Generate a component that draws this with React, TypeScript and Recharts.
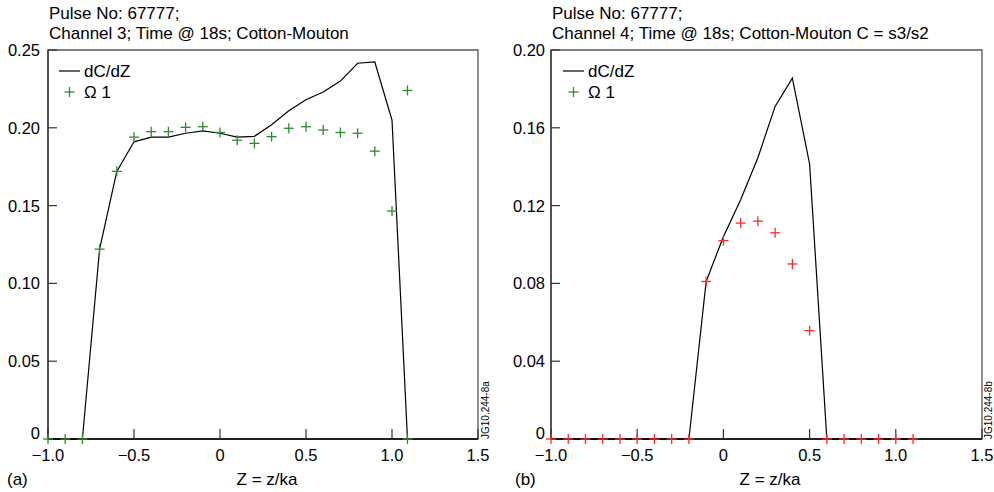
import React from 'react';
import { ComposedChart, Scatter, XAxis, YAxis, ReferenceArea, Legend } from 'recharts';

const FONT = '"Liberation Sans", Arial, Helvetica, sans-serif';
const GREEN = '#2f8a2f';
const RED = '#ff2a2a';

// ---------- Panel (a): Channel 3 ----------
const aLineZ = [-1.0, -0.9, -0.8, -0.7, -0.6, -0.5, -0.4, -0.3, -0.2, -0.1, 0, 0.1, 0.2, 0.3, 0.4, 0.5, 0.6, 0.7, 0.8, 0.9, 1.0, 1.09];
const aLineDCdZ = [0, 0, 0, 0.122, 0.172, 0.191, 0.194, 0.194, 0.1965, 0.198, 0.1965, 0.194, 0.1945, 0.202, 0.211, 0.218, 0.223, 0.23, 0.2415, 0.2423, 0.205, 0];
const aOmegaZ = [-1.0, -0.9, -0.8, -0.7, -0.6, -0.5, -0.4, -0.3, -0.2, -0.1, 0, 0.1, 0.2, 0.3, 0.4, 0.5, 0.6, 0.7, 0.8, 0.9, 1.0, 1.09, 1.09];
const aOmega1 = [0, 0, 0, 0.122, 0.172, 0.194, 0.1975, 0.1975, 0.2003, 0.2007, 0.197, 0.192, 0.19, 0.1943, 0.1997, 0.2007, 0.1986, 0.197, 0.1965, 0.185, 0.1465, 0.224, 0];
const aYTicks = [0, 0.05, 0.1, 0.15, 0.2, 0.25];

// ---------- Panel (b): Channel 4 ----------
const bLineZ = [-1.0, -0.9, -0.8, -0.7, -0.6, -0.5, -0.4, -0.3, -0.2, -0.1, 0, 0.1, 0.2, 0.3, 0.4, 0.5, 0.6, 0.7, 0.8, 0.9, 1.0, 1.1];
const bLineDCdZ = [0, 0, 0, 0, 0, 0, 0, 0, 0, 0.081, 0.104, 0.123, 0.1446, 0.171, 0.1855, 0.1414, 0, 0, 0, 0, 0, 0];
const bOmegaZ = [-1.0, -0.9, -0.8, -0.7, -0.6, -0.5, -0.4, -0.3, -0.2, -0.1, 0, 0.1, 0.2, 0.3, 0.4, 0.5, 0.6, 0.7, 0.8, 0.9, 1.0, 1.1];
const bOmega1 = [0, 0, 0, 0, 0, 0, 0, 0, 0, 0.081, 0.102, 0.111, 0.112, 0.106, 0.09, 0.0557, 0, 0, 0, 0, 0, 0];
const bYTicks = [0, 0.04, 0.08, 0.12, 0.16, 0.2];

const xTicks = [-1, -0.5, 0, 0.5, 1, 1.5];

const toPoints = (xs: number[], ys: number[]) => xs.map((z, i) => ({ z, v: ys[i] }));

const makePlus = (color: string) => (props: any) => {
  const { cx, cy } = props;
  if (cx == null || cy == null) return <g />;
  return (
    <g>
      <line x1={cx - 5} x2={cx + 5} y1={cy} y2={cy} stroke={color} strokeWidth={1.3} />
      <line x1={cx} x2={cx} y1={cy - 5} y2={cy + 5} stroke={color} strokeWidth={1.3} />
    </g>
  );
};
const NoShape = () => <g />;

const fmtX = (v: number) => (v === 0 ? '0' : (v < 0 ? '\u2212' : '') + Math.abs(v).toFixed(1));

const XTick = (props: any) => {
  const { x, y, payload } = props;
  return (
    <text x={x} y={y} textAnchor="middle" fontSize={16.5} fontFamily={FONT} fill="#000">
      {fmtX(payload.value)}
    </text>
  );
};

const makeYTick = (digits: number) => (props: any) => {
  const { x, y, payload } = props;
  const v = payload.value;
  return (
    <text x={x} y={v === 0 ? y - 6 : y} textAnchor="end" dominantBaseline="central" fontSize={16.5} fontFamily={FONT} fill="#000">
      {v === 0 ? '0' : v.toFixed(digits)}
    </text>
  );
};

const LegendBox = () => (
  <svg width={90} height={44} style={{ display: 'block' }}>
    <line x1={0} x2={21} y1={11} y2={11} stroke="#000" strokeWidth={1.2} />
    <text x={25} y={11} dominantBaseline="central" fontSize={17} fontFamily={FONT} fill="#000">dC/dZ</text>
    <line x1={5.5} x2={15.5} y1={32} y2={32} stroke={GREEN} strokeWidth={1.3} />
    <line x1={10.5} x2={10.5} y1={27} y2={37} stroke={GREEN} strokeWidth={1.3} />
    <text x={25} y={32} dominantBaseline="central" fontSize={17} fontFamily={FONT} fill="#000">Ω 1</text>
  </svg>
);

type PanelProps = {
  left: number;
  yAxisWidth: number;
  rightMargin: number;
  yMax: number;
  yTicks: number[];
  yDigits: number;
  yTickMargin: number;
  lineData: { z: number; v: number }[];
  markData: { z: number; v: number }[];
  markColor: string;
  legendLeft: number;
};

const Panel = (p: PanelProps) => (
  <div style={{ position: 'absolute', left: p.left, top: 0 }}>
    <ComposedChart width={497} height={492} margin={{ top: 50, right: p.rightMargin, bottom: 0, left: 0 }}>
      <XAxis
        type="number"
        dataKey="z"
        domain={[-1, 1.5]}
        ticks={xTicks}
        height={53}
        tickSize={-10}
        tickMargin={32}
        tick={<XTick />}
        tickLine={{ stroke: '#333', strokeWidth: 1.2 }}
        axisLine={{ stroke: '#000', strokeWidth: 1.3 }}
      />
      <YAxis
        type="number"
        dataKey="v"
        domain={[0, p.yMax]}
        ticks={p.yTicks}
        width={p.yAxisWidth}
        tickSize={-9}
        tickMargin={p.yTickMargin}
        tick={makeYTick(p.yDigits)}
        tickLine={{ stroke: '#333', strokeWidth: 1.2 }}
        axisLine={{ stroke: '#333', strokeWidth: 1.3 }}
      />
      <ReferenceArea x1={-1} x2={1.5} y1={0} y2={p.yMax} fill="none" stroke="#555" strokeWidth={1.3} ifOverflow="visible" />
      <Legend
        layout="horizontal"
        verticalAlign="middle"
        align="center"
        wrapperStyle={{ left: p.legendLeft, top: 60, width: 90, height: 44 }}
        content={() => <LegendBox />}
      />
      <Scatter
        name="dC/dZ"
        data={p.lineData}
        line={{ stroke: '#000', strokeWidth: 1.2 }}
        lineType="joint"
        shape={NoShape}
        isAnimationActive={false}
      />
      <Scatter name="Ω 1" data={p.markData} shape={makePlus(p.markColor)} isAnimationActive={false} />
    </ComposedChart>
  </div>
);

const Texts = () => (
  <svg width={994} height={492} style={{ position: 'absolute', left: 0, top: 0, pointerEvents: 'none' }} fontFamily={FONT}>
    <text x={49} y={18.5} fontSize={17}>Pulse No: 67777;</text>
    <text x={49} y={39} fontSize={17}>Channel 3; Time @ 18s; Cotton-Mouton</text>
    <text x={552} y={18.5} fontSize={17}>Pulse No: 67777;</text>
    <text x={552} y={39} fontSize={17}>Channel 4; Time @ 18s; Cotton-Mouton C = s3/s2</text>
    <text x={267} y={485} fontSize={17} textAnchor="middle">Z = z/ka</text>
    <text x={770} y={485} fontSize={17} textAnchor="middle">Z = z/ka</text>
    <text x={7} y={485} fontSize={17}>(a)</text>
    <text x={515} y={485} fontSize={17}>(b)</text>
    <text transform="translate(489,439) rotate(-90)" fontSize={10}>JG10.244-8a</text>
    <text transform="translate(992,439) rotate(-90)" fontSize={10}>JG10.244-8b</text>
  </svg>
);

export default function App() {
  return (
    <div style={{ position: 'absolute', left: 0, top: 0, width: 994, height: 492, background: '#fff', overflow: 'hidden' }}>
      <Panel
        left={0}
        yAxisWidth={48}
        rightMargin={19}
        yMax={0.25}
        yTicks={aYTicks}
        yDigits={2}
        yTickMargin={17}
        lineData={toPoints(aLineZ, aLineDCdZ)}
        markData={toPoints(aOmegaZ, aOmega1)}
        markColor={GREEN}
        legendLeft={59}
      />
      <Panel
        left={497}
        yAxisWidth={54}
        rightMargin={12}
        yMax={0.2}
        yTicks={bYTicks}
        yDigits={2}
        yTickMargin={15}
        lineData={toPoints(bLineZ, bLineDCdZ)}
        markData={toPoints(bOmegaZ, bOmega1)}
        markColor={RED}
        legendLeft={66}
      />
      <Texts />
    </div>
  );
}
